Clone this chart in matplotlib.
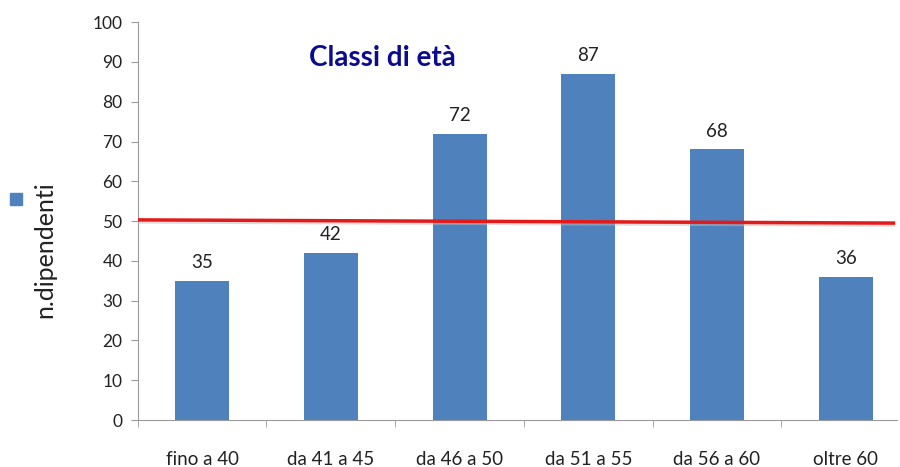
import matplotlib.pyplot as plt
import numpy as np

# Data
categories = ['fino a 40', 'da 41 a 45', 'da 46 a 50', 'da 51 a 55', 'da 56 a 60', 'oltre 60']
dipendenti = [35, 42, 72, 87, 68, 36]
# red reference line (slightly sloped, hand drawn in the original)
line_x = [-0.5, 5.37]
line_y = [50.3, 49.5]

plt.rcParams['font.family'] = ['Lato', 'DejaVu Sans']

fig = plt.figure(figsize=(9, 4.67), dpi=100)
ax = fig.add_axes([0.153, 0.1006, 0.844, 0.852])

x = np.arange(len(categories))
bars = ax.bar(x, dipendenti, 0.42, color='#4F81BD', zorder=2)

for b, v in zip(bars, dipendenti):
    ax.text(b.get_x() + b.get_width() / 2, v + 2.5, f'{v}',
            ha='center', va='bottom', fontsize=13.5, color='#222222')

# red line with a faint shadow
ax.plot(line_x, [v - 0.5 for v in line_y], color='#bbbbbb', linewidth=2.5, alpha=0.5, zorder=3)
ax.plot(line_x, line_y, color='#E41A1A', linewidth=2.5, zorder=4)

ax.set_xlim(-0.5, 5.4)
ax.set_ylim(0, 100)
ax.set_yticks(range(0, 101, 10))
ax.set_xticks(x)
ax.set_xticklabels(categories, fontsize=13.5, color='#222222')
ax.set_xticks(np.arange(-0.5, 5.5, 1), minor=True)
ax.tick_params(axis='x', which='major', length=0, pad=22)
ax.tick_params(axis='x', which='minor', length=5, color='#9a9a9a', direction='out')
ax.tick_params(axis='y', length=5, color='#9a9a9a', labelsize=12.5, labelcolor='#222222', pad=6)

for s in ['top', 'right']:
    ax.spines[s].set_visible(False)
ax.spines['left'].set_color('#9a9a9a')
ax.spines['bottom'].set_color('#9a9a9a')

ax.text(0.322, 0.91, 'Classi di età', transform=ax.transAxes, fontsize=20,
        fontweight='bold', color='#0B0B8F', ha='center', va='center')

fig.text(0.05, 0.465, 'n.dipendenti', rotation=90, fontsize=18, ha='center', va='center', color='#222222')
fig.patches.append(plt.Rectangle((0.011, 0.561), 0.013, 0.026, transform=fig.transFigure,
                                 color='#4F81BD', figure=fig))

plt.savefig('out.png', dpi=100)
